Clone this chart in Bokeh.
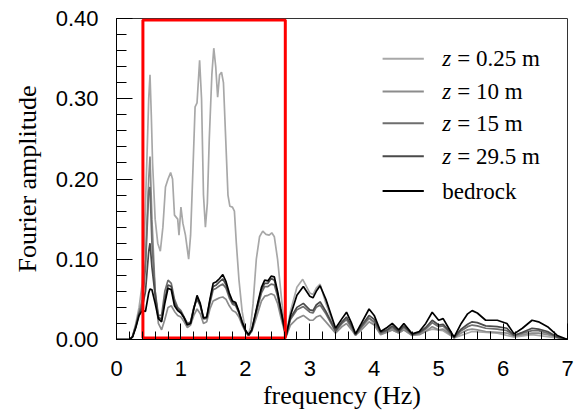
from bokeh.plotting import figure
from bokeh.models import ColumnDataSource, SingleIntervalTicker, NumeralTickFormatter, Range1d
from bokeh.core.properties import value
from bokeh.embed import file_html
from bokeh.resources import INLINE

# ---------------- data ----------------
freq = [0, 0.2, 0.25, 0.3, 0.35, 0.4, 0.45, 0.5, 0.52, 0.55, 0.6, 0.65, 0.7, 0.75, 0.8, 0.85,
        0.9, 0.95, 1.0, 1.05, 1.1, 1.15, 1.2, 1.25, 1.3, 1.35, 1.4, 1.45, 1.5, 1.55, 1.6, 1.65,
        1.7, 1.75, 1.8, 1.85, 1.9, 1.95, 2.0, 2.05, 2.1, 2.15, 2.2, 2.25, 2.3, 2.35, 2.4, 2.45,
        2.5, 2.55, 2.63, 2.7, 2.8, 2.9, 3.0, 3.05, 3.1, 3.16, 3.25, 3.4, 3.5, 3.57, 3.65, 3.71,
        3.8, 3.92, 4.0, 4.1, 4.2, 4.28, 4.38, 4.46, 4.59, 4.7, 4.8, 4.9, 5.0, 5.07, 5.15, 5.24,
        5.35, 5.45, 5.52, 5.6, 5.73, 5.91, 6.06, 6.17, 6.3, 6.45, 6.55, 6.69, 6.84, 7.0]

amp_bedrock = [0, 0, 0.003, 0.015, 0.03, 0.036, 0.035, 0.058, 0.063, 0.062, 0.045, 0.026, 0.022, 0.045, 0.064, 0.062,
               0.042, 0.036, 0.033, 0.027, 0.018, 0.02, 0.038, 0.055, 0.045, 0.027, 0.028, 0.05, 0.07, 0.072, 0.076, 0.081,
               0.072, 0.058, 0.048, 0.046, 0.035, 0.022, 0.012, 0.006, 0.012, 0.03, 0.048, 0.065, 0.074, 0.073, 0.079, 0.078,
               0.06, 0.038, 0.004, 0.03, 0.055, 0.066, 0.054, 0.052, 0.06, 0.067, 0.05, 0.014, 0.026, 0.034, 0.02, 0.007,
               0.02, 0.038, 0.03, 0.01, 0.015, 0.02, 0.012, 0.02, 0.007, 0.01, 0.02, 0.034, 0.024, 0.026, 0.015, 0.003,
               0.02, 0.032, 0.036, 0.033, 0.024, 0.024, 0.02, 0.007, 0.014, 0.024, 0.022, 0.016, 0.005, 0]

amp_z29_5 = [0, 0, 0.004, 0.016, 0.032, 0.04, 0.06, 0.11, 0.12, 0.09, 0.055, 0.028, 0.025, 0.05, 0.068, 0.066,
             0.046, 0.038, 0.034, 0.027, 0.019, 0.021, 0.039, 0.052, 0.043, 0.026, 0.027, 0.048, 0.066, 0.068, 0.072, 0.0755,
             0.068, 0.055, 0.046, 0.044, 0.034, 0.021, 0.011, 0.005, 0.012, 0.029, 0.046, 0.062, 0.07, 0.07, 0.076, 0.074,
             0.057, 0.036, 0.004, 0.027, 0.04, 0.045, 0.037, 0.036, 0.043, 0.047, 0.035, 0.011, 0.022, 0.028, 0.017, 0.006,
             0.017, 0.03, 0.025, 0.009, 0.012, 0.017, 0.01, 0.017, 0.006, 0.009, 0.015, 0.024, 0.018, 0.019, 0.012, 0.003,
             0.013, 0.019, 0.022, 0.021, 0.017, 0.016, 0.014, 0.005, 0.009, 0.014, 0.013, 0.01, 0.003, 0]

amp_z15 = [0, 0, 0.004, 0.017, 0.033, 0.045, 0.09, 0.185, 0.19, 0.12, 0.06, 0.03, 0.03, 0.06, 0.074, 0.07,
           0.05, 0.04, 0.036, 0.028, 0.02, 0.022, 0.04, 0.05, 0.042, 0.026, 0.026, 0.045, 0.062, 0.064, 0.067, 0.069,
           0.064, 0.052, 0.044, 0.042, 0.033, 0.02, 0.011, 0.005, 0.011, 0.027, 0.043, 0.058, 0.066, 0.066, 0.069, 0.068,
           0.054, 0.034, 0.004, 0.025, 0.037, 0.041, 0.034, 0.033, 0.04, 0.043, 0.032, 0.01, 0.02, 0.025, 0.015, 0.006,
           0.015, 0.027, 0.022, 0.008, 0.011, 0.015, 0.009, 0.015, 0.006, 0.008, 0.013, 0.021, 0.016, 0.017, 0.01, 0.002,
           0.011, 0.016, 0.018, 0.017, 0.014, 0.013, 0.011, 0.005, 0.008, 0.011, 0.011, 0.008, 0.003, 0]

amp_z10 = [0, 0, 0.004, 0.018, 0.035, 0.05, 0.1, 0.2, 0.228, 0.15, 0.06, 0.02, 0.012, 0.025, 0.04, 0.042,
           0.035, 0.03, 0.028, 0.022, 0.015, 0.018, 0.03, 0.038, 0.032, 0.02, 0.022, 0.038, 0.048, 0.05, 0.052, 0.053,
           0.05, 0.042, 0.036, 0.034, 0.028, 0.018, 0.01, 0.005, 0.01, 0.022, 0.035, 0.048, 0.054, 0.055, 0.057, 0.055,
           0.045, 0.028, 0.003, 0.018, 0.026, 0.03, 0.024, 0.024, 0.028, 0.03, 0.022, 0.008, 0.016, 0.02, 0.012, 0.005,
           0.012, 0.022, 0.018, 0.006, 0.009, 0.012, 0.008, 0.012, 0.005, 0.006, 0.01, 0.016, 0.012, 0.013, 0.008, 0.002,
           0.008, 0.012, 0.013, 0.012, 0.01, 0.009, 0.008, 0.004, 0.006, 0.008, 0.008, 0.006, 0.003, 0]

freq_z025 = [0, 0.2, 0.25, 0.3, 0.35, 0.4, 0.43, 0.47, 0.5, 0.52, 0.54, 0.56, 0.6, 0.64, 0.68, 0.72,
             0.76, 0.8, 0.84, 0.87, 0.9, 0.95, 0.97, 1.0, 1.03, 1.07, 1.12, 1.15, 1.19, 1.22, 1.25, 1.29,
             1.32, 1.35, 1.38, 1.41, 1.44, 1.48, 1.51, 1.54, 1.57, 1.6, 1.63, 1.66, 1.69, 1.73, 1.76, 1.8,
             1.83, 1.86, 1.9, 1.95, 2.0, 2.04, 2.08, 2.12, 2.17, 2.22, 2.27, 2.32, 2.37, 2.41, 2.45, 2.5,
             2.55, 2.6, 2.63, 2.7, 2.8, 2.89, 3.0, 3.05, 3.1, 3.16, 3.25, 3.4, 3.5, 3.57, 3.65, 3.71,
             3.8, 3.92, 4.0, 4.1, 4.28, 4.38, 4.46, 4.59, 4.9, 5.07, 5.24, 5.52, 5.91, 6.17, 6.45, 6.84, 7.0]
amp_z025 = [0, 0, 0.004, 0.02, 0.04, 0.07, 0.12, 0.22, 0.30, 0.33, 0.28, 0.22, 0.15, 0.12, 0.11, 0.14,
            0.19, 0.2, 0.208, 0.2, 0.155, 0.15, 0.13, 0.165, 0.145, 0.13, 0.10, 0.13, 0.22, 0.29, 0.295, 0.348,
            0.30, 0.18, 0.14, 0.17, 0.25, 0.33, 0.363, 0.34, 0.302, 0.33, 0.333, 0.32, 0.26, 0.18, 0.166, 0.165,
            0.16, 0.12, 0.075, 0.035, 0.012, 0.005, 0.015, 0.045, 0.1, 0.128, 0.135, 0.131, 0.13, 0.133, 0.128, 0.1,
            0.06, 0.02, 0.004, 0.035, 0.065, 0.075, 0.058, 0.056, 0.064, 0.069, 0.045, 0.012, 0.02, 0.025, 0.014, 0.006,
            0.015, 0.026, 0.02, 0.007, 0.012, 0.008, 0.012, 0.005, 0.013, 0.011, 0.002, 0.01, 0.008, 0.003, 0.006, 0.002, 0]

series_names = ["z = 0.25 m", "z = 10 m", "z = 15 m", "z = 29.5 m", "bedrock"]
series_colors = ["#a8a8a8", "#8c8c8c", "#6e6e6e", "#4a4a4a", "#000000"]
legend_rest = ["= 0.25 m", "= 10 m", "= 15 m", "= 29.5 m", "bedrock"]

x_ticks_major = 1
y_ticks_major = 0.1
x_limits = (0, 7)
y_limits = (0, 0.4)
highlight_band = (0.41, 2.62)  # frequency band highlighted by the red frame

# ---------------- figure ----------------
p = figure(width=579, height=412, output_backend="svg", toolbar_location=None,
           x_range=Range1d(*x_limits), y_range=Range1d(*y_limits),
           min_border_left=116, min_border_right=12, min_border_top=18, min_border_bottom=71)
p.background_fill_color = "white"
p.border_fill_color = "white"
p.grid.visible = False
p.outline_line_color = "#333333"
p.outline_line_width = 1

serif = "Liberation Serif"
sans = "Liberation Sans"

for ax in (p.xaxis[0], p.yaxis[0]):
    ax.axis_line_color = "black"
    ax.major_tick_line_color = "black"
    ax.minor_tick_line_color = "black"
    ax.major_tick_out = 0
    ax.minor_tick_out = 0
    ax.major_tick_in = 16
    ax.major_label_text_font = sans
    ax.major_label_text_font_size = "22px"
    ax.major_label_text_color = "black"
    ax.axis_label_text_font = serif
    ax.axis_label_text_font_style = "normal"
    ax.axis_label_text_font_size = "26px"
    ax.axis_label_text_color = "black"

p.xaxis.ticker = SingleIntervalTicker(interval=x_ticks_major, num_minor_ticks=5)
p.yaxis.ticker = SingleIntervalTicker(interval=y_ticks_major, num_minor_ticks=5)
p.yaxis.formatter = NumeralTickFormatter(format="0.00")
p.xaxis.minor_tick_in = 8
p.yaxis.minor_tick_in = 10
p.xaxis.axis_label = "frequency (Hz)"
p.yaxis.axis_label = "Fourier amplitude"
p.xaxis.major_label_standoff = 21
p.yaxis.major_label_standoff = 18
p.xaxis.axis_label_standoff = 2
p.yaxis.axis_label_standoff = 11

# curves
lw = 1.7
p.line(freq_z025, amp_z025, line_color=series_colors[0], line_width=lw)
p.line(freq, amp_z10, line_color=series_colors[1], line_width=lw)
p.line(freq, amp_z15, line_color=series_colors[2], line_width=lw)
p.line(freq, amp_z29_5, line_color=series_colors[3], line_width=lw)
p.line(freq, amp_bedrock, line_color=series_colors[4], line_width=lw)

# red highlight frame
pad_y = 0.0018
p.quad(left=[highlight_band[0]], right=[highlight_band[1]],
       bottom=[y_limits[0] + pad_y], top=[y_limits[1] - pad_y],
       fill_alpha=0, line_color="#ff0000", line_width=3)

# manual legend (italic z)
leg_x0, leg_x1, leg_text_x = 4.13, 4.77, 5.057
leg_y = [0.350, 0.309, 0.2696, 0.2282, 0.1849]
leg_src = ColumnDataSource(dict(x0=[leg_x0] * 5, x1=[leg_x1] * 5, y=leg_y,
                                color=series_colors, rest=legend_rest,
                                z=["z", "z", "z", "z", ""],
                                off=[15, 15, 15, 15, 0]))
p.segment(x0="x0", y0="y", x1="x1", y1="y", line_color="color", line_width=2, source=leg_src)
p.text(x=leg_text_x, y="y", text="z", source=leg_src, text_font=value(serif),
       text_font_style="italic", text_font_size="23px", text_baseline="middle",
       text_align="left", text_color="black")
p.text(x=leg_text_x, y="y", text="rest", x_offset="off", source=leg_src, text_font=value(serif),
       text_font_size="23px", text_baseline="middle", text_align="left", text_color="black")

open("out.html", "w").write(file_html(p, INLINE))
